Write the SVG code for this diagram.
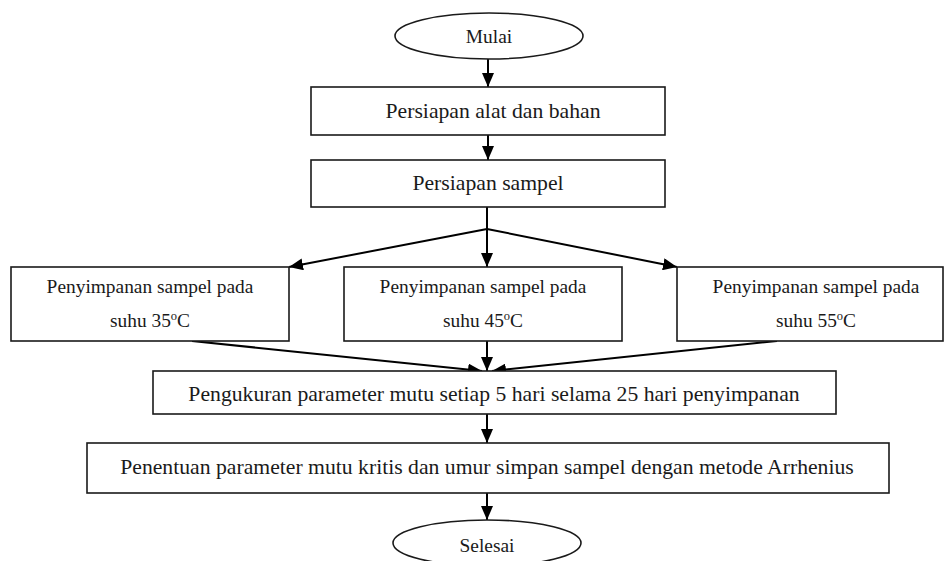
<svg xmlns="http://www.w3.org/2000/svg" width="944" height="561" viewBox="0 0 944 561">
<style>
.shape{fill:#fff;stroke:#1a1a1a;stroke-width:1.6}
.t{font-family:"Liberation Serif","Times New Roman",serif;font-size:21.7px;fill:#1a1a1a;text-anchor:middle}
.s{font-size:19.4px}
.c{fill:none;stroke:#000;stroke-width:2}
</style>
<defs>
<marker id="ah" viewBox="0 0 14 12" refX="14" refY="6" markerWidth="14" markerHeight="12" markerUnits="userSpaceOnUse" orient="auto">
<path d="M0,0 L14,6 L0,12 Z" fill="#000"/>
</marker>
</defs>
<rect width="944" height="561" fill="#fff"/>
<g id="connectors">
<line class="c" x1="488" y1="59" x2="488" y2="87" marker-end="url(#ah)"/>
<line class="c" x1="488" y1="135" x2="488" y2="160" marker-end="url(#ah)"/>
<line class="c" x1="487" y1="207" x2="487" y2="229"/>
<line class="c" x1="487" y1="229" x2="487" y2="267" marker-end="url(#ah)"/>
<line class="c" x1="487" y1="229" x2="289" y2="267" marker-end="url(#ah)"/>
<line class="c" x1="487" y1="229" x2="677" y2="267" marker-end="url(#ah)"/>
<line class="c" x1="192" y1="341" x2="482" y2="371" marker-end="url(#ah)"/>
<line class="c" x1="487" y1="341" x2="487" y2="371" marker-end="url(#ah)"/>
<line class="c" x1="777" y1="341" x2="492" y2="371" marker-end="url(#ah)"/>
<line class="c" x1="487" y1="414" x2="487" y2="443" marker-end="url(#ah)"/>
<line class="c" x1="487" y1="493" x2="487" y2="520" marker-end="url(#ah)"/>
</g>
<g id="mulai">
<ellipse class="shape" cx="489" cy="36" rx="94" ry="23"/>
<text class="t s" x="489" y="43">Mulai</text>
</g>
<g id="persiapan-alat">
<rect class="shape" x="311" y="87" width="354" height="48"/>
<text class="t" x="493" y="118">Persiapan alat dan bahan</text>
</g>
<g id="persiapan-sampel">
<rect class="shape" x="311" y="160" width="354" height="47"/>
<text class="t" x="488" y="190">Persiapan sampel</text>
</g>
<g id="suhu35">
<rect class="shape" x="11" y="267" width="278" height="74"/>
<text class="t s" x="150" y="293">Penyimpanan sampel pada</text>
<text class="t s" x="150" y="327">suhu 35<tspan font-size="12.5" dy="-7">o</tspan><tspan dy="7">C</tspan></text>
</g>
<g id="suhu45">
<rect class="shape" x="344" y="267" width="278" height="74"/>
<text class="t s" x="483" y="293">Penyimpanan sampel pada</text>
<text class="t s" x="483" y="327">suhu 45<tspan font-size="12.5" dy="-7">o</tspan><tspan dy="7">C</tspan></text>
</g>
<g id="suhu55">
<rect class="shape" x="677" y="267" width="266" height="74"/>
<text class="t s" x="816" y="293">Penyimpanan sampel pada</text>
<text class="t s" x="816" y="327">suhu 55<tspan font-size="12.5" dy="-7">o</tspan><tspan dy="7">C</tspan></text>
</g>
<g id="pengukuran">
<rect class="shape" x="153" y="371" width="683" height="43"/>
<text class="t" x="494" y="401">Pengukuran parameter mutu setiap 5 hari selama 25 hari penyimpanan</text>
</g>
<g id="penentuan">
<rect class="shape" x="87" y="443" width="802" height="50"/>
<text class="t" x="487" y="474">Penentuan parameter mutu kritis dan umur simpan sampel dengan metode Arrhenius</text>
</g>
<g id="selesai">
<ellipse class="shape" cx="487" cy="543" rx="94" ry="23"/>
<text class="t s" x="487" y="552">Selesai</text>
</g>
</svg>
